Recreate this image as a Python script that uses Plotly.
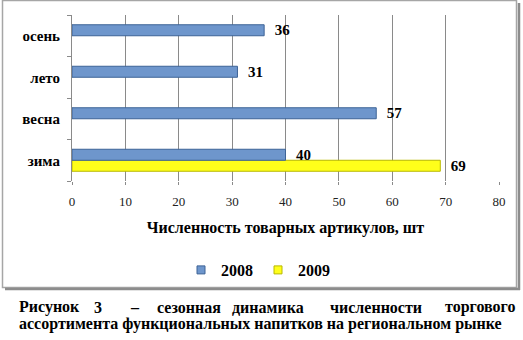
import plotly.graph_objects as go

categories = ["зима", "весна", "лето", "осень"]
series_names = ["2008", "2009"]
values_2008 = [40, 57, 31, 36]
values_2009 = [69, None, None, None]
x_ticks = [0, 10, 20, 30, 40, 50, 60, 70, 80]
x_title = "Численность товарных артикулов, шт"
caption_line1 = ["Рисунок", "3", "–", "сезонная", "динамика", "численности", "торгового"]
caption_line2 = "ассортимента функциональных напитков на региональном рынке"

W, H = 523, 340
L, R, T, B = 72, 24, 15, 159
PW, PH = W - L - R, H - T - B

def px(x):
    return (x - L) / PW

def py(y):
    return (H - B - y) / PH

SERIF = "Liberation Serif"

def bfont(size):
    return dict(family=SERIF, size=size, color="black", weight="bold")

BLUE, BLUE_EDGE = "#6E96CC", "#3D6396"
YEL, YEL_EDGE = "#FFFF1A", "#B8B800"

fig = go.Figure()
fig.add_trace(go.Bar(
    y=categories, x=values_2009, name=series_names[1], orientation="h",
    marker=dict(color=YEL, line=dict(color=YEL_EDGE, width=1)),
    texttemplate="\u00a0\u00a0%{x}", textposition="outside", constraintext="none",
    textfont=bfont(15), cliponaxis=False, showlegend=False,
))
fig.add_trace(go.Bar(
    y=categories, x=values_2008, name=series_names[0], orientation="h",
    marker=dict(color=BLUE, line=dict(color=BLUE_EDGE, width=1)),
    texttemplate="\u00a0\u00a0%{x}", textposition="outside", constraintext="none",
    textfont=bfont(15), cliponaxis=False, showlegend=False,
))
for name, c, e, rank in [(series_names[0], BLUE, BLUE_EDGE, 1), (series_names[1], YEL, YEL_EDGE, 2)]:
    fig.add_trace(go.Scatter(
        x=[None], y=[None], mode="markers", name=name, legendrank=rank,
        marker=dict(symbol="square", size=8, color=c, line=dict(color=e, width=1)),
    ))

shapes = [
    dict(type="rect", xref="paper", yref="paper",
         x0=px(2.5), x1=px(516.5), y0=py(0.5), y1=py(287.5),
         line=dict(color="#A6A6A6", width=1.5), layer="below"),
    dict(type="line", xref="paper", yref="paper",
         x0=px(519), x1=px(519), y0=py(3), y1=py(290),
         line=dict(color="#8C8C8C", width=2.5)),
    dict(type="line", xref="paper", yref="paper",
         x0=px(5), x1=px(520), y0=py(289), y1=py(289),
         line=dict(color="#8C8C8C", width=2.5)),
]

word_x = [17, 92, 128, 155, 230, 328, 443]
annotations = []
for w, xw in zip(caption_line1, word_x):
    annotations.append(dict(text=w, x=px(xw), y=py(307), xref="paper", yref="paper",
                            xanchor="left", yanchor="middle", showarrow=False, font=bfont(16)))
annotations.append(dict(text=caption_line2, x=px(17), y=py(324), xref="paper", yref="paper",
                        xanchor="left", yanchor="middle", showarrow=False, font=bfont(16)))

fig.update_layout(
    width=W, height=H,
    margin=dict(l=L, r=R, t=T, b=B),
    paper_bgcolor="white", plot_bgcolor="white",
    barmode="group", bargap=0.47, bargroupgap=0,
    showlegend=True,
    legend=dict(orientation="h", x=px(258), xanchor="center", y=py(270), yanchor="middle",
                font=bfont(16), itemwidth=30, tracegroupgap=0, bgcolor="rgba(0,0,0,0)"),
    xaxis=dict(range=[0, 80], tickvals=x_ticks, showgrid=True, gridcolor="#8A8A8A", gridwidth=1,
               zeroline=False, showline=False, ticks="outside", ticklen=3, tickcolor="#8A8A8A",
               ticklabelstandoff=5,
               tickfont=dict(family=SERIF, size=13, color="#222222"),
               title=dict(text=x_title, standoff=14, font=bfont(16))),
    yaxis=dict(showline=True, linecolor="#8A8A8A", linewidth=1, ticks="outside", ticklen=4,
               tickcolor="#8A8A8A", tickson="boundaries", showgrid=False,
               ticklabelstandoff=8, tickfont=bfont(15)),
    shapes=shapes, annotations=annotations,
)

fig.write_html("out.html")
